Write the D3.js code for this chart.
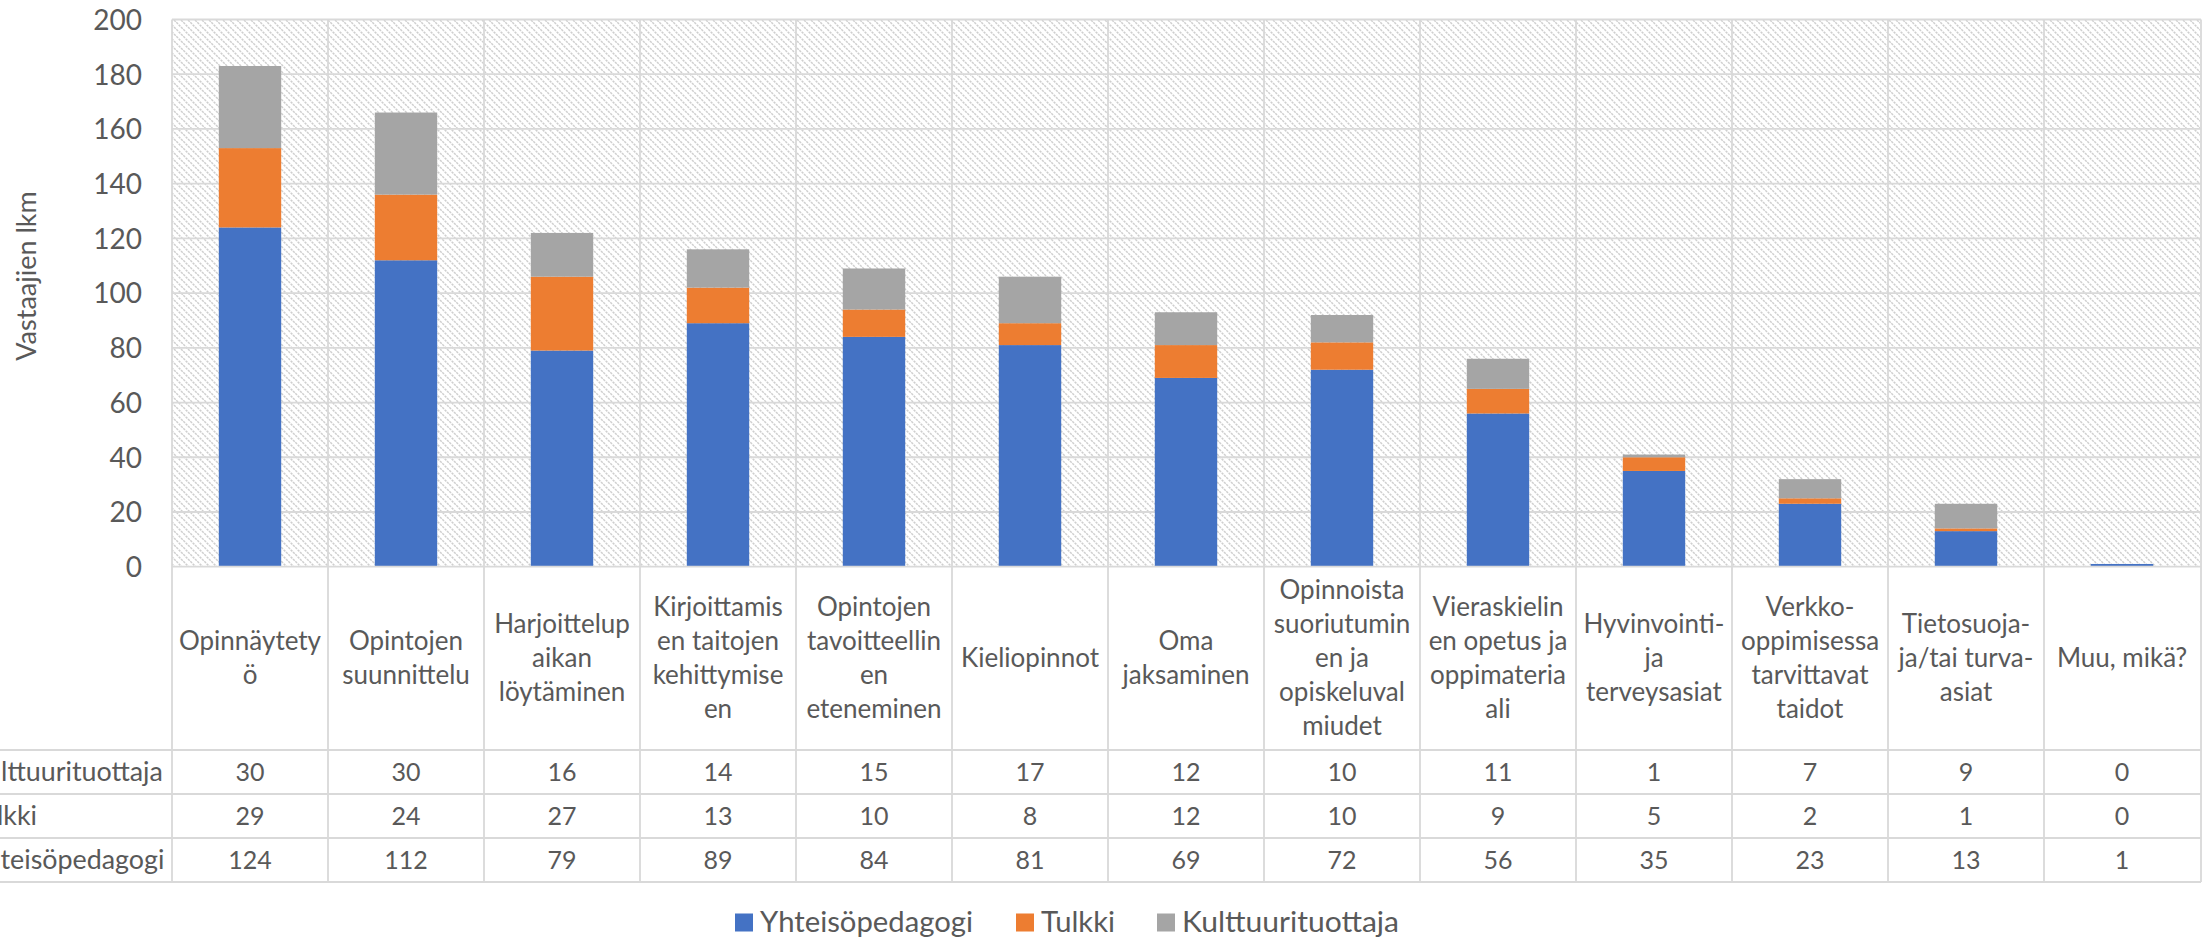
<!DOCTYPE html>
<html><head><meta charset="utf-8">
<script src="https://cdn.jsdelivr.net/npm/d3@7"></script>
<style>
html,body{margin:0;padding:0;background:#fff;}
svg{display:block;}
text{font-family:Lato,"Open Sans","Liberation Sans",sans-serif;fill:#595959;}
</style></head>
<body>
<svg id="c" width="2212" height="937"></svg>
<script>
const categories = ["Opinnäytetyö","Opintojen suunnittelu","Harjoittelupaikan löytäminen","Kirjoittamisen taitojen kehittymisen","Opintojen tavoitteellinen eteneminen","Kieliopinnot","Oma jaksaminen","Opinnoista suoriutuminen ja opiskeluvalmiudet","Vieraskielinen opetus ja oppimateriaali","Hyvinvointi- ja terveysasiat","Verkko-oppimisessa tarvittavat taidot","Tietosuoja- ja/tai turva-asiat","Muu, mikä?"];
const categoryLines = [
  ["Opinnäytety","ö"],
  ["Opintojen","suunnittelu"],
  ["Harjoittelup","aikan","löytäminen"],
  ["Kirjoittamis","en taitojen","kehittymise","en"],
  ["Opintojen","tavoitteellin","en","eteneminen"],
  ["Kieliopinnot"],
  ["Oma","jaksaminen"],
  ["Opinnoista","suoriutumin","en ja","opiskeluval","miudet"],
  ["Vieraskielin","en opetus ja","oppimateria","ali"],
  ["Hyvinvointi-","ja","terveysasiat"],
  ["Verkko-","oppimisessa","tarvittavat","taidot"],
  ["Tietosuoja-","ja/tai turva-","asiat"],
  ["Muu, mikä?"]
];
const seriesNames = ["Yhteisöpedagogi","Tulkki","Kulttuurituottaja"];
const yhteisopedagogi = [124,112,79,89,84,81,69,72,56,35,23,13,1];
const tulkki = [29,24,27,13,10,8,12,10,9,5,2,1,0];
const kulttuurituottaja = [30,30,16,14,15,17,12,10,11,1,7,9,0];
const colors = ["#4472C4","#ED7D31","#A5A5A5"];
const yTicks = [0,20,40,60,80,100,120,140,160,180,200];
const yTitle = "Vastaajien lkm";

const svg = d3.select("#c");
const pLeft = 172, pRight = 2200, pTop = 19.5, pBase = 566.7;
const rowLines = [750, 794, 838, 882];
const grid = "#d9d9d9";

const x = d3.scaleBand().domain(categories).range([pLeft, pRight]).padding(0);
const y = d3.scaleLinear().domain([0, 200]).range([pBase, pTop]);

// hatch pattern
const defs = svg.append("defs");
const pat = defs.append("pattern").attr("id","hatch").attr("patternUnits","userSpaceOnUse")
  .attr("width",7).attr("height",7);
pat.append("path").attr("d","M-1,-1 L8,8 M-8,-1 L1,8 M6,-1 L15,8")
  .attr("stroke","#cfcfcf").attr("stroke-width",1.5).attr("stroke-dasharray","2.4,0.9");

svg.append("rect").attr("x",pLeft).attr("y",pTop).attr("width",pRight-pLeft).attr("height",pBase-pTop)
  .attr("fill","url(#hatch)");

// horizontal gridlines
svg.append("g").selectAll("line").data(yTicks.filter(d=>d>0)).join("line")
  .attr("x1",pLeft).attr("x2",pRight+1).attr("y1",d=>y(d)).attr("y2",d=>y(d))
  .attr("stroke",grid).attr("stroke-width",1.8);

// vertical lines (plot + table)
const vx = categories.map(c=>x(c)).concat([pRight+1]);
svg.append("g").selectAll("line").data(vx).join("line")
  .attr("x1",d=>d).attr("x2",d=>d).attr("y1",pTop).attr("y2",rowLines[3])
  .attr("stroke",grid).attr("stroke-width",1.8);

// stacked bars
const data = categories.map((c,i)=>({cat:c, "Yhteisöpedagogi":yhteisopedagogi[i], "Tulkki":tulkki[i], "Kulttuurituottaja":kulttuurituottaja[i]}));
const stacked = d3.stack().keys(seriesNames)(data);
const bw = x.bandwidth()*0.4;
svg.append("g").selectAll("g").data(stacked).join("g").attr("fill",(d,i)=>colors[i])
  .selectAll("rect").data(d=>d).join("rect")
  .attr("x",d=>x(d.data.cat)+(x.bandwidth()-bw)/2)
  .attr("width",bw)
  .attr("y",d=>y(d[1]))
  .attr("height",d=>y(d[0])-y(d[1]));

// axis base line and table row lines
svg.append("line").attr("x1",pLeft).attr("x2",pRight+1).attr("y1",pBase).attr("y2",pBase)
  .attr("stroke",grid).attr("stroke-width",1.8);
svg.append("g").selectAll("line").data(rowLines).join("line")
  .attr("x1",0).attr("x2",pRight+1).attr("y1",d=>d).attr("y2",d=>d)
  .attr("stroke",grid).attr("stroke-width",1.8);

// y axis labels
const yAxis = d3.axisLeft(y).tickValues(yTicks).tickSize(0).tickPadding(0);
const ga = svg.append("g").attr("transform",`translate(142,0)`).call(yAxis);
ga.select(".domain").remove();
ga.selectAll("text").style("font-size","28px").attr("fill","#595959")
  .style("font-family","Lato,'Open Sans',sans-serif").attr("dy","0.35em");

// y title
svg.append("text").attr("transform","translate(36,276) rotate(-90)")
  .attr("text-anchor","middle").style("font-size","27px").text(yTitle);

// category labels
const lh = 34;
const catCenter = (pBase + rowLines[0]) / 2;
const cg = svg.append("g").selectAll("text").data(categories).join("text")
  .attr("text-anchor","middle").style("font-size","26px");
cg.each(function(c,i){
  const lines = categoryLines[i];
  const t = d3.select(this);
  const y0 = catCenter - (lines.length-1)*lh/2;
  lines.forEach((ln,k)=>{
    t.append("tspan").attr("x", x(c)+x.bandwidth()/2).attr("y", y0 + k*lh).attr("dy","0.35em").text(ln);
  });
});

// table rows (top to bottom: Kulttuurituottaja, Tulkki, Yhteisöpedagogi)
const tableRows = [
  {name:"Kulttuurituottaja", vals:kulttuurituottaja},
  {name:"Tulkki", vals:tulkki},
  {name:"Yhteisöpedagogi", vals:yhteisopedagogi}
];
tableRows.forEach((r,ri)=>{
  const cy = (rowLines[ri] + rowLines[ri+1]) / 2;
  svg.append("g").selectAll("text").data(r.vals).join("text")
    .attr("x",(d,i)=>x(categories[i])+x.bandwidth()/2).attr("y",cy).attr("dy","0.35em")
    .attr("text-anchor","middle").style("font-size","25px").text(d=>d);
});
// row labels, left-aligned, partly cut off at the left edge as in the reference
const rl = svg.append("g");
const tmp = rl.append("text").style("font-size","26px").text("Kulttuurituottaja");
const kw = tmp.node().getComputedTextLength();
tmp.remove();
const rowFont = 26 * 194 / kw;
const x0 = 163 - 194;
tableRows.forEach((r,ri)=>{
  const cy = (rowLines[ri] + rowLines[ri+1]) / 2;
  rl.append("text").attr("x",x0).attr("y",cy).attr("dy","0.35em").style("font-size",rowFont+"px").text(r.name);
});

// legend
const legendX = [735, 1016, 1157];
const legendEnd = [973, 1115, 1399];
const lg = svg.append("g");
seriesNames.forEach((s,i)=>{
  lg.append("rect").attr("x",legendX[i]).attr("y",913.5).attr("width",18).attr("height",18).attr("fill",colors[i]);
  lg.append("text").attr("x",legendX[i]+25).attr("y",922.5).attr("dy","0.35em")
    .style("font-size","28px").attr("textLength",legendEnd[i]-legendX[i]-25)
    .attr("lengthAdjust","spacingAndGlyphs").text(s);
});
</script>
</body></html>
